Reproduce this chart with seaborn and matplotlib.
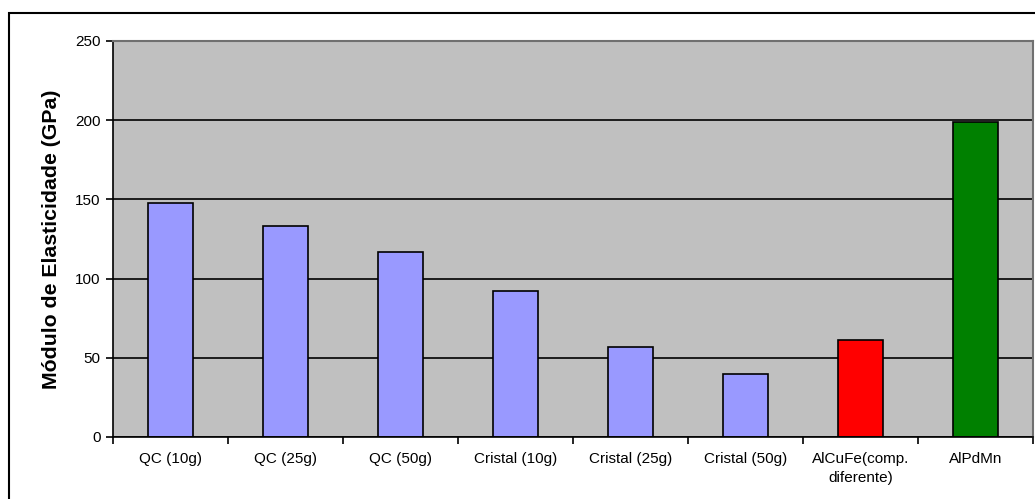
import matplotlib
matplotlib.use("Agg")
import matplotlib.pyplot as plt
import numpy as np
import seaborn as sns
from matplotlib.patches import Rectangle

categories = ["QC (10g)", "QC (25g)", "QC (50g)", "Cristal (10g)", "Cristal (25g)",
              "Cristal (50g)", "AlCuFe(comp.\ndiferente)", "AlPdMn"]
modulus = [148, 133, 117, 92, 57, 40, 61, 199]
bar_colors = ["#9999FF"] * 6 + ["#FF0000", "#008000"]
y_ticks = [0, 50, 100, 150, 200, 250]

sns.set_theme(style="white")
plt.rcParams["font.family"] = ["Liberation Sans", "DejaVu Sans"]
plt.rcParams["text.color"] = "black"
plt.rcParams["xtick.color"] = "black"
plt.rcParams["ytick.color"] = "black"
plt.rcParams["axes.labelcolor"] = "black"

fig = plt.figure(figsize=(10.35, 4.99), dpi=100)
ax = fig.add_axes([113 / 1035, 62 / 499, 920 / 1035, 396 / 499])
ax.set_facecolor("#C0C0C0")

sns.barplot(x=categories, y=modulus, hue=categories, palette=bar_colors, legend=False,
            width=0.39, edgecolor="black", linewidth=1.2, saturation=1, ax=ax)

ax.set_ylim(0, 250)
ax.set_xlim(-0.5, len(categories) - 0.5)
ax.set_yticks(y_ticks)
ax.yaxis.grid(True, color="black", linewidth=1.2)
ax.set_axisbelow(True)

# tick marks between categories, labels centered under bars
ax.set_xticks(np.arange(len(categories)))
ax.set_xticklabels(categories, fontsize=11, linespacing=1.45)
ax.set_xticks(np.arange(len(categories) + 1) - 0.5, minor=True)
ax.tick_params(axis="x", which="major", length=0, pad=11)
ax.tick_params(axis="x", which="minor", length=5, width=1.2, color="black", direction="out", bottom=True)
ax.tick_params(axis="y", length=5, width=1.2, color="black", direction="out", left=True, labelsize=11, pad=4)

for side in ["left", "bottom"]:
    ax.spines[side].set_color("black")
    ax.spines[side].set_linewidth(1.2)
for side in ["top", "right"]:
    ax.spines[side].set_color("#707070")
    ax.spines[side].set_linewidth(1.5)

ax.set_xlabel("")
ax.set_ylabel("Módulo de Elasticidade (GPa)", fontsize=15.3, fontweight="bold", labelpad=10)

# outer chart border
fig.add_artist(Rectangle((9 / 1035, -0.1), 1.2, 0.1 + (499 - 13) / 499, transform=fig.transFigure,
                         fill=False, edgecolor="black", linewidth=1.5))

fig.savefig("out.png", dpi=100)
